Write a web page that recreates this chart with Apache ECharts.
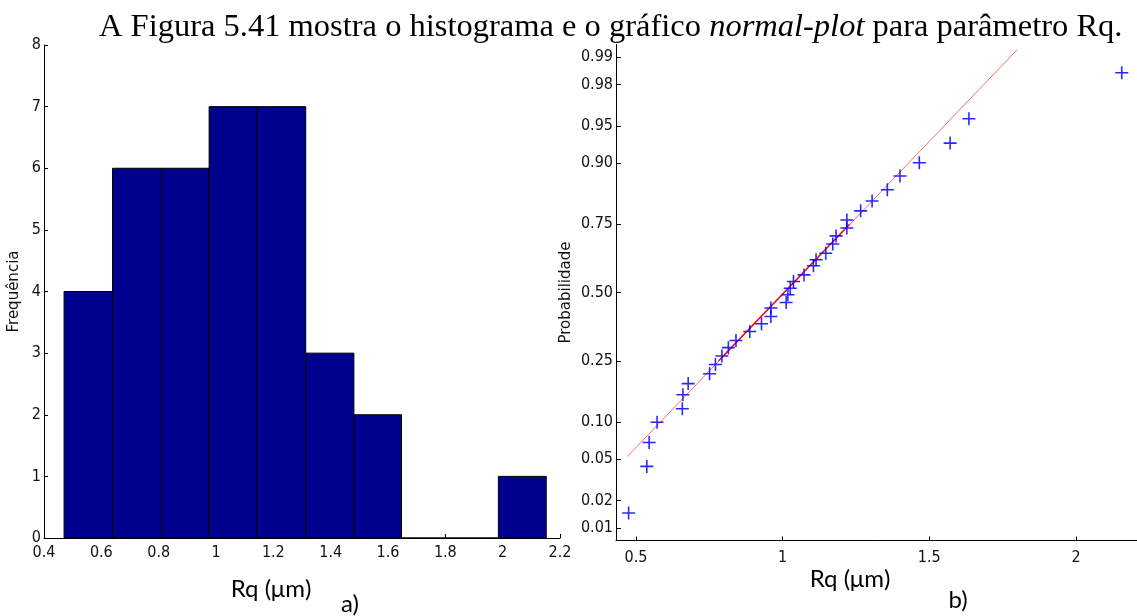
<!DOCTYPE html>
<html>
<head>
<meta charset="utf-8">
<script src="https://cdn.jsdelivr.net/npm/echarts@6/dist/echarts.min.js"></script>
<style>
html, body { margin: 0; padding: 0; background: #fff; }
#chart { width: 1137px; height: 616px; }
</style>
</head>
<body>
<div id="chart"></div>
<script>
// histogram (a)
var binEdges = [0.470, 0.639, 0.810, 0.976, 1.143, 1.313, 1.481, 1.647, 1.816, 1.985, 2.152];
var binCounts = [4, 6, 6, 7, 7, 3, 2, 0, 0, 1];

// normal plot (b): Rq value and plotted probability of each cross
var rqValues = [0.475, 0.537, 0.545, 0.572, 0.658, 0.660, 0.678, 0.751, 0.771, 0.793,
                0.815, 0.841, 0.888, 0.928, 0.960, 0.960, 1.012, 1.018, 1.026, 1.037,
                1.073, 1.105, 1.114, 1.147, 1.171, 1.182, 1.219, 1.219, 1.266, 1.305,
                1.357, 1.400, 1.466, 1.571, 1.635, 2.156];
var rqProb = [0.0147, 0.0429, 0.0693, 0.0998, 0.1255, 0.156, 0.184, 0.211, 0.2386, 0.265,
              0.293, 0.318, 0.350, 0.379, 0.406, 0.439, 0.461, 0.491, 0.517, 0.543,
              0.569, 0.604, 0.627, 0.651, 0.684, 0.712, 0.738, 0.763, 0.790, 0.817,
              0.845, 0.875, 0.900, 0.930, 0.957, 0.985];

// reference line: full extent and the quartile part
var fitX = [0.471, 1.800];
var fitP = [0.0527, 0.9918];
var quartX = [0.782, 1.228];
var quartP = [0.25, 0.75];

var probTicks = [0.01, 0.02, 0.05, 0.10, 0.25, 0.50, 0.75, 0.90, 0.95, 0.98, 0.99];
var probLabels = ['0.01', '0.02', '0.05', '0.10', '0.25', '0.50', '0.75', '0.90', '0.95', '0.98', '0.99'];
var rqTicks = [0.5, 1, 1.5, 2];

// inverse normal cdf (Acklam), used as the probability-axis scale
function norminv(p) {
    var a = [-3.969683028665376e+01, 2.209460984245205e+02, -2.759285104469687e+02, 1.383577518672690e+02, -3.066479806614716e+01, 2.506628277459239e+00];
    var b = [-5.447609879822406e+01, 1.615858368580409e+02, -1.556989798598866e+02, 6.680131188771972e+01, -1.328068155288572e+01];
    var c = [-7.784894002430293e-03, -3.223964580411365e-01, -2.400758277161838e+00, -2.549732539343734e+00, 4.374664141464968e+00, 2.938163982698783e+00];
    var d = [7.784695709041462e-03, 3.224671290700398e-01, 2.445134137142996e+00, 3.754408661907416e+00];
    var pl = 0.02425, q, r;
    if (p < pl) {
        q = Math.sqrt(-2 * Math.log(p));
        return (((((c[0]*q+c[1])*q+c[2])*q+c[3])*q+c[4])*q+c[5]) / ((((d[0]*q+d[1])*q+d[2])*q+d[3])*q+1);
    }
    if (p > 1 - pl) {
        q = Math.sqrt(-2 * Math.log(1 - p));
        return -(((((c[0]*q+c[1])*q+c[2])*q+c[3])*q+c[4])*q+c[5]) / ((((d[0]*q+d[1])*q+d[2])*q+d[3])*q+1);
    }
    q = p - 0.5; r = q * q;
    return (((((a[0]*r+a[1])*r+a[2])*r+a[3])*r+a[4])*r+a[5])*q / (((((b[0]*r+b[1])*r+b[2])*r+b[3])*r+b[4])*r+1);
}

var tickFont = "'Liberation Sans Narrow', 'DejaVu Sans Condensed', 'Liberation Sans', sans-serif";
var nameFont = "'DejaVu Sans', sans-serif";
var plusPath = 'path://M-1,-0.12L1,-0.12L1,0.12L-1,0.12Z M-0.12,-1L0.12,-1L0.12,1L-0.12,1Z';

var histData = binCounts.map(function (n, i) { return [binEdges[i], binEdges[i + 1], n]; });
var normData = rqValues.map(function (x, i) { return [x, norminv(rqProb[i])]; });
var fitData = fitX.map(function (x, i) { return [x, norminv(fitP[i])]; });
var quartData = quartX.map(function (x, i) { return [x, norminv(quartP[i])]; });
var probZ = probTicks.map(norminv);

var axisBlack = { onZero: false, lineStyle: { color: '#000', width: 1 } };

var chart = echarts.init(document.getElementById('chart'));
chart.setOption({
    animation: false,
    grid: [
        { left: 44, top: 45, width: 516, height: 493, outerBoundsMode: 'none' },
        { left: 616, top: 44.5, width: 521, height: 496, outerBoundsMode: 'none' }
    ],
    xAxis: [
        {
            gridIndex: 0, type: 'value', min: 0.4, max: 2.2, interval: 0.2,
            axisLine: axisBlack, splitLine: { show: false },
            axisTick: { inside: true, length: 4, lineStyle: { color: '#000' } },
            axisLabel: { margin: 7, fontFamily: tickFont, fontSize: 16, color: '#111' }
        },
        {
            gridIndex: 1, type: 'value', min: 0.432, max: 2.208,
            axisLine: axisBlack, splitLine: { show: false },
            axisTick: { inside: true, length: 4, customValues: rqTicks, lineStyle: { color: '#000' } },
            axisLabel: { margin: 9, fontFamily: tickFont, fontSize: 16, color: '#111', customValues: rqTicks,
                formatter: function (v) { return String(v); } }
        }
    ],
    yAxis: [
        {
            gridIndex: 0, type: 'value', min: 0, max: 8, interval: 1,
            name: 'Frequência', nameLocation: 'middle', nameGap: 22, nameRotate: 90,
            nameTextStyle: { fontFamily: nameFont, fontSize: 15, color: '#111' },
            axisLine: axisBlack, splitLine: { show: false },
            axisTick: { inside: true, length: 4, lineStyle: { color: '#000' } },
            axisLabel: { margin: 3, fontFamily: tickFont, fontSize: 16, color: '#111' }
        },
        {
            gridIndex: 1, type: 'value', min: -2.45, max: 2.45,
            name: 'Probabilidade', nameLocation: 'middle', nameGap: 42, nameRotate: 90,
            nameTextStyle: { fontFamily: nameFont, fontSize: 15, color: '#111' },
            axisLine: axisBlack, splitLine: { show: false },
            axisTick: { inside: true, length: 5, customValues: probZ, lineStyle: { color: '#000' } },
            axisLabel: {
                margin: 3, fontFamily: tickFont, fontSize: 16, color: '#111', customValues: probZ,
                formatter: function (v) {
                    var best = 0;
                    for (var i = 1; i < probZ.length; i++) {
                        if (Math.abs(probZ[i] - v) < Math.abs(probZ[best] - v)) best = i;
                    }
                    return probLabels[best];
                }
            }
        }
    ],
    series: [
        {
            type: 'custom', xAxisIndex: 0, yAxisIndex: 0, data: histData,
            encode: { x: [0, 1], y: 2 },
            renderItem: function (params, api) {
                var p0 = api.coord([api.value(0), api.value(2)]);
                var p1 = api.coord([api.value(1), 0]);
                return {
                    type: 'rect',
                    shape: { x: p0[0], y: p0[1], width: p1[0] - p0[0], height: p1[1] - p0[1] },
                    style: { fill: '#00008f', stroke: '#000', lineWidth: 1 }
                };
            }
        },
        {
            type: 'line', xAxisIndex: 1, yAxisIndex: 1, data: fitData,
            symbol: 'none', silent: true, clip: true, z: 2,
            lineStyle: { color: '#ff6a6a', width: 1 }
        },
        {
            type: 'line', xAxisIndex: 1, yAxisIndex: 1, data: quartData,
            symbol: 'none', silent: true, clip: true, z: 3,
            lineStyle: { color: '#ff0000', width: 1.5 }
        },
        {
            type: 'scatter', xAxisIndex: 1, yAxisIndex: 1, data: normData,
            symbol: plusPath, symbolSize: 13, silent: true, z: 4,
            itemStyle: { color: '#0000ff', opacity: 0.85 }
        }
    ],
    graphic: [
        {
            type: 'text', x: 99, y: 27, z: 100,
            style: {
                text: 'A Figura 5.41 mostra o histograma e o gráfico {i|normal-plot} para parâmetro Rq.',
                fontFamily: "'Liberation Serif', serif", fontSize: 32.5, fill: '#000',
                textVerticalAlign: 'middle',
                rich: { i: { fontStyle: 'italic', fontFamily: "'Liberation Serif', serif", fontSize: 32.5 } }
            }
        },
        {
            type: 'text', x: 271, y: 589, z: 100,
            style: { text: 'Rq (μm)', fontFamily: "Lato, 'Open Sans', sans-serif", fontSize: 24, fill: '#000',
                textAlign: 'center', textVerticalAlign: 'middle' }
        },
        {
            type: 'text', x: 350, y: 604, z: 100,
            style: { text: 'a)', fontFamily: "Lato, 'Open Sans', sans-serif", fontSize: 24, fill: '#000',
                textAlign: 'center', textVerticalAlign: 'middle' }
        },
        {
            type: 'text', x: 850, y: 579, z: 100,
            style: { text: 'Rq (μm)', fontFamily: "Lato, 'Open Sans', sans-serif", fontSize: 24, fill: '#000',
                textAlign: 'center', textVerticalAlign: 'middle' }
        },
        {
            type: 'text', x: 958, y: 600, z: 100,
            style: { text: 'b)', fontFamily: "Lato, 'Open Sans', sans-serif", fontSize: 24, fill: '#000',
                textAlign: 'center', textVerticalAlign: 'middle' }
        }
    ]
});
</script>
</body>
</html>
